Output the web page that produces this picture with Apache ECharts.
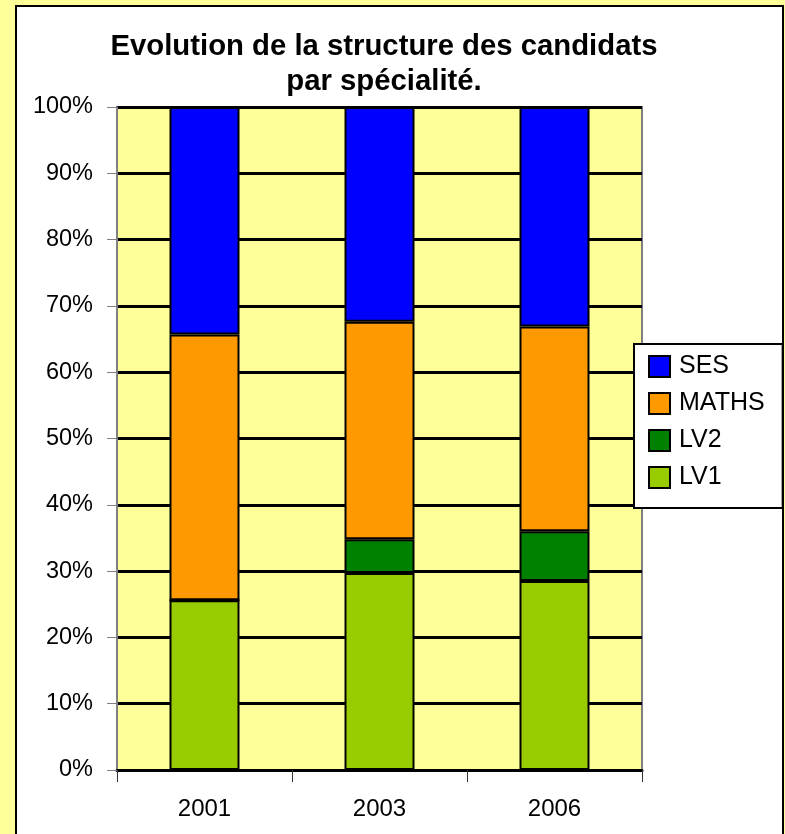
<!DOCTYPE html>
<html>
<head>
<meta charset="utf-8">
<script src="https://cdn.jsdelivr.net/npm/echarts@6/dist/echarts.min.js"></script>
<style>
html, body { margin: 0; padding: 0; background: #FFFF99; }
#chart { width: 785px; height: 834px; }
</style>
</head>
<body>
<div id="chart"></div>
<script>
// années
var annees = ['2001', '2003', '2006'];
// parts en % (du bas vers le haut)
var lv1 = [25.6, 29.7, 28.5];
var lv2 = [0, 5.1, 7.5];
var maths = [40.1, 32.8, 30.9];
var ses = [34.3, 32.4, 33.1];
var graduations = [0, 100, 10];

var chart = echarts.init(document.getElementById('chart'));

function serie(nom, couleur, valeurs) {
    return {
        name: nom,
        type: 'bar',
        stack: 'total',
        barWidth: 70,
        data: valeurs,
        itemStyle: {
            color: couleur,
            borderColor: '#000',
            borderWidth: 2
        }
    };
}

var option = {
    backgroundColor: '#FFFF99',
    animation: false,
    textStyle: { fontFamily: 'Arial, "Liberation Sans", sans-serif' },
    graphic: [{
        type: 'rect',
        z: -10,
        shape: { x: 16, y: 6, width: 767, height: 840 },
        style: { fill: '#fff', stroke: '#000', lineWidth: 2 }
    }],
    title: {
        text: 'Evolution de la structure des candidats\npar spécialité.',
        left: 379,
        textAlign: 'center',
        top: 24,
        textStyle: {
            fontSize: 29.3,
            fontWeight: 'bold',
            color: '#000',
            lineHeight: 35,
            fontFamily: 'Arial, "Liberation Sans", sans-serif'
        }
    },
    legend: {
        data: ['SES', 'MATHS', 'LV2', 'LV1'],
        orient: 'vertical',
        left: 634,
        top: 344,
        padding: [10, 18, 18, 14],
        itemWidth: 21,
        itemHeight: 21,
        itemGap: 12,
        backgroundColor: '#fff',
        borderColor: '#000',
        borderWidth: 2,
        icon: 'rect',
        itemStyle: { borderColor: '#000', borderWidth: 2 },
        textStyle: { fontSize: 25, color: '#000', padding: [0, 0, 0, 4] }
    },
    grid: {
        left: 117,
        top: 107,
        width: 525,
        height: 663,
        show: true,
        backgroundColor: '#FFFF99',
        borderColor: '#808080',
        borderWidth: 2
    },
    xAxis: {
        type: 'category',
        data: annees,
        axisLine: { lineStyle: { color: '#000', width: 3 } },
        axisTick: { show: true, length: 12, lineStyle: { color: '#333', width: 1 } },
        axisLabel: { fontSize: 24, color: '#000', margin: 27 }
    },
    yAxis: {
        type: 'value',
        min: graduations[0],
        max: graduations[1],
        interval: graduations[2],
        axisLine: { show: true, lineStyle: { color: '#808080', width: 1 } },
        axisTick: { show: true, length: 10, lineStyle: { color: '#808080' } },
        axisLabel: { formatter: '{value}%', fontSize: 23.5, color: '#000', margin: 24 },
        splitLine: { lineStyle: { color: '#000', width: 3 } }
    },
    series: [
        serie('LV1', '#99CC00', lv1),
        serie('LV2', '#008000', lv2),
        serie('MATHS', '#FF9900', maths),
        serie('SES', '#0000FF', ses)
    ]
};

chart.setOption(option);
window.addEventListener('resize', function () {
    chart.resize();
});
</script>
</body>
</html>
